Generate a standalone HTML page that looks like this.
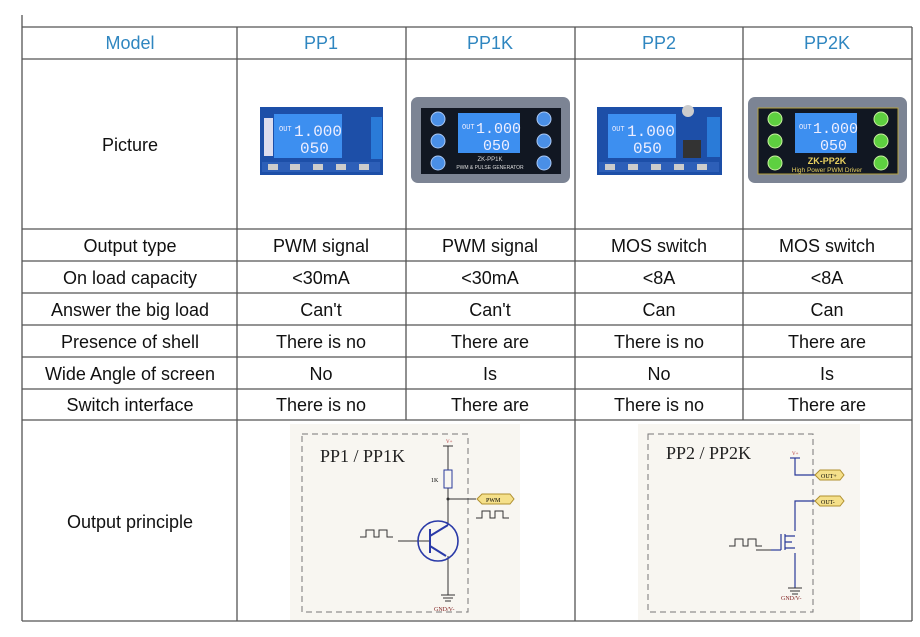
<!DOCTYPE html>
<html><head><meta charset="utf-8"><style>
html,body{margin:0;padding:0;background:#fff;}
svg{display:block;}
text{font-family:"Liberation Sans",sans-serif;}
text.s{font-family:"Liberation Serif",serif;}
.c{font-size:18px;fill:#111;text-anchor:middle;}
.h{font-size:18px;fill:#2f86c0;text-anchor:middle;}
text.lcd{font-family:"Liberation Mono",monospace;fill:#eef;}
</style></head><body>
<svg width="920" height="637" viewBox="0 0 920 637" xmlns="http://www.w3.org/2000/svg">
<rect width="920" height="637" fill="#fff"/>
<rect x="290" y="424" width="230" height="196" fill="#f8f6f1"/>
<rect x="638" y="424" width="222" height="196" fill="#f8f6f1"/>
<g stroke="#555" stroke-width="1.3" fill="none">
<line x1="22" y1="15" x2="22" y2="621"/>
<line x1="912" y1="27" x2="912" y2="621"/>
<line x1="237" y1="27" x2="237" y2="621"/>
<line x1="406" y1="27" x2="406" y2="420"/>
<line x1="575" y1="27" x2="575" y2="621"/>
<line x1="743" y1="27" x2="743" y2="420"/>
<line x1="22" y1="27" x2="912" y2="27"/>
<line x1="22" y1="59" x2="912" y2="59"/>
<line x1="22" y1="229" x2="912" y2="229"/>
<line x1="22" y1="261" x2="912" y2="261"/>
<line x1="22" y1="293" x2="912" y2="293"/>
<line x1="22" y1="325" x2="912" y2="325"/>
<line x1="22" y1="357" x2="912" y2="357"/>
<line x1="22" y1="389" x2="912" y2="389"/>
<line x1="22" y1="420" x2="912" y2="420"/>
<line x1="22" y1="621" x2="912" y2="621"/>
</g>
<text class="h" x="130" y="49">Model</text>
<text class="h" x="321" y="49">PP1</text>
<text class="h" x="490" y="49">PP1K</text>
<text class="h" x="659" y="49">PP2</text>
<text class="h" x="827" y="49">PP2K</text>
<text class="c" x="130" y="151">Picture</text>
<text class="c" x="130" y="252">Output type</text><text class="c" x="321" y="252">PWM signal</text><text class="c" x="490" y="252">PWM signal</text><text class="c" x="659" y="252">MOS switch</text><text class="c" x="827" y="252">MOS switch</text>
<text class="c" x="130" y="284">On load capacity</text><text class="c" x="321" y="284">&lt;30mA</text><text class="c" x="490" y="284">&lt;30mA</text><text class="c" x="659" y="284">&lt;8A</text><text class="c" x="827" y="284">&lt;8A</text>
<text class="c" x="130" y="316">Answer the big load</text><text class="c" x="321" y="316">Can't</text><text class="c" x="490" y="316">Can't</text><text class="c" x="659" y="316">Can</text><text class="c" x="827" y="316">Can</text>
<text class="c" x="130" y="348">Presence of shell</text><text class="c" x="321" y="348">There is no</text><text class="c" x="490" y="348">There are</text><text class="c" x="659" y="348">There is no</text><text class="c" x="827" y="348">There are</text>
<text class="c" x="130" y="380">Wide Angle of screen</text><text class="c" x="321" y="380">No</text><text class="c" x="490" y="380">Is</text><text class="c" x="659" y="380">No</text><text class="c" x="827" y="380">Is</text>
<text class="c" x="130" y="411">Switch interface</text><text class="c" x="321" y="411">There is no</text><text class="c" x="490" y="411">There are</text><text class="c" x="659" y="411">There is no</text><text class="c" x="827" y="411">There are</text>
<text class="c" x="130" y="528">Output principle</text>
<!-- PP1 board -->
<rect x="260" y="107" width="123" height="68" fill="#1d4fa8"/>
<rect x="264" y="118" width="9" height="38" fill="#dde"/>
<rect x="274" y="114" width="68" height="44" fill="#3d8ff0"/>
<text class="lcd" x="279" y="131" font-size="7">OUT</text>
<text class="lcd" x="294" y="136" font-size="16">1.000</text>
<text class="lcd" x="300" y="153" font-size="16">050</text>
<rect x="371" y="117" width="11" height="42" fill="#2a7bd8"/>
<rect x="262" y="162" width="118" height="10" fill="#2d5fb8"/>
<g fill="#ccc"><rect x="268" y="164" width="10" height="6"/><rect x="290" y="164" width="10" height="6"/><rect x="313" y="164" width="10" height="6"/><rect x="336" y="164" width="10" height="6"/><rect x="359" y="164" width="10" height="6"/></g>
<!-- PP1K -->
<rect x="411" y="97" width="159" height="86" rx="7" fill="#7c8494"/>
<rect x="421" y="108" width="140" height="66" fill="#111722"/>
<rect x="458" y="113" width="62" height="40" fill="#3d8ff0"/>
<text class="lcd" x="462" y="129" font-size="7">OUT</text>
<text class="lcd" x="476" y="133" font-size="15">1.000</text>
<text class="lcd" x="483" y="150" font-size="15">050</text>
<g fill="#4a8fe6" stroke="#aac8f5"><circle cx="438" cy="119" r="7"/><circle cx="438" cy="141" r="7"/><circle cx="438" cy="163" r="7"/><circle cx="544" cy="119" r="7"/><circle cx="544" cy="141" r="7"/><circle cx="544" cy="163" r="7"/></g>
<text x="490" y="161" font-size="6" fill="#ddd" text-anchor="middle">ZK-PP1K</text>
<text x="490" y="169" font-size="5" fill="#ddd" text-anchor="middle">PWM &amp; PULSE GENERATOR</text>
<!-- PP2 -->
<rect x="597" y="107" width="125" height="68" fill="#1d4fa8"/>
<rect x="608" y="114" width="68" height="44" fill="#3d8ff0"/>
<text class="lcd" x="612" y="131" font-size="7">OUT</text>
<text class="lcd" x="627" y="136" font-size="16">1.000</text>
<text class="lcd" x="633" y="153" font-size="16">050</text>
<circle cx="688" cy="111" r="6" fill="#ccc"/>
<rect x="683" y="140" width="18" height="18" fill="#333"/>
<rect x="707" y="117" width="13" height="40" fill="#2a7bd8"/>
<rect x="599" y="162" width="120" height="10" fill="#2d5fb8"/>
<g fill="#ccc"><rect x="605" y="164" width="10" height="6"/><rect x="628" y="164" width="10" height="6"/><rect x="651" y="164" width="10" height="6"/><rect x="674" y="164" width="10" height="6"/><rect x="697" y="164" width="10" height="6"/></g>
<!-- PP2K -->
<rect x="748" y="97" width="159" height="86" rx="7" fill="#7c8494"/>
<rect x="758" y="108" width="140" height="66" fill="#111722" stroke="#b5a040"/>
<rect x="795" y="113" width="62" height="40" fill="#3d8ff0"/>
<text class="lcd" x="799" y="129" font-size="7">OUT</text>
<text class="lcd" x="813" y="133" font-size="15">1.000</text>
<text class="lcd" x="820" y="150" font-size="15">050</text>
<g fill="#5ed040" stroke="#c8f0a0"><circle cx="775" cy="119" r="7"/><circle cx="775" cy="141" r="7"/><circle cx="775" cy="163" r="7"/><circle cx="881" cy="119" r="7"/><circle cx="881" cy="141" r="7"/><circle cx="881" cy="163" r="7"/></g>
<text x="827" y="164" font-size="9" font-weight="bold" fill="#e8d060" text-anchor="middle">ZK-PP2K</text>
<text x="827" y="172" font-size="6.5" fill="#e8d060" text-anchor="middle">High Power PWM Driver</text>
<!-- circuit 1 -->
<rect x="302" y="434" width="166" height="178" fill="none" stroke="#777" stroke-dasharray="6,4"/>
<text class="s" x="320" y="462" font-size="18" fill="#222">PP1 / PP1K</text>
<text class="s" x="446" y="443" font-size="5" fill="#b03030">V+</text>
<g stroke="#333" fill="none">
<line x1="443" y1="446" x2="453" y2="446"/>
<line x1="448" y1="446" x2="448" y2="470"/>
<line x1="448" y1="488" x2="448" y2="525"/>
<line x1="448" y1="499" x2="476" y2="499"/>
<line x1="398" y1="541" x2="430" y2="541"/>
<line x1="448" y1="556" x2="448" y2="595"/>
<path d="M360 537h6v-7h8v7h5v-7h8v7h6"/>
<path d="M476 518h6v-7h8v7h5v-7h8v7h6"/>
</g>
<circle cx="448" cy="499" r="1.5" fill="#333"/>
<rect x="444" y="470" width="8" height="18" fill="none" stroke="#2a3a9a"/>
<text class="s" x="431" y="482" font-size="6">1K</text>
<path d="M477 499l5-5h28l4 5-4 5h-28z" fill="#f5e08a" stroke="#b09030"/>
<text class="s" x="486" y="502" font-size="6">PWM</text>
<circle cx="438" cy="541" r="20" fill="none" stroke="#2a3aa8" stroke-width="1.6"/>
<g stroke="#2a3aa8" stroke-width="2"><line x1="430" y1="529" x2="430" y2="553"/><line x1="430" y1="536" x2="448" y2="525"/><line x1="430" y1="546" x2="446" y2="556"/></g>
<g stroke="#333"><line x1="441" y1="595" x2="455" y2="595"/><line x1="443" y1="598" x2="453" y2="598"/><line x1="445" y1="601" x2="451" y2="601"/></g>
<text class="s" x="434" y="611" font-size="6" fill="#802020">GND/V-</text>
<!-- circuit 2 -->
<rect x="648" y="434" width="165" height="178" fill="none" stroke="#777" stroke-dasharray="6,4"/>
<text class="s" x="666" y="459" font-size="18" fill="#222">PP2 / PP2K</text>
<text class="s" x="792" y="455" font-size="5" fill="#b03030">V+</text>
<g stroke="#2a3a9a" fill="none" stroke-width="1.2">
<line x1="790" y1="458" x2="800" y2="458"/>
<path d="M795 458v17h20"/>
<path d="M815 501h-20v30"/>
<path d="M795 553v35"/>
<line x1="785" y1="534" x2="785" y2="550"/>
<line x1="781" y1="534" x2="781" y2="550"/>
<path d="M785 536h10M785 548h10M785 542h7"/>
<line x1="771" y1="550" x2="781" y2="550"/>
</g>
<path d="M729 546h6v-7h8v7h5v-7h8v7h6" stroke="#333" fill="none"/>
<line x1="756" y1="550" x2="771" y2="550" stroke="#333"/>
<path d="M815 475l5-5h20l4 5-4 5h-20z" fill="#f5e08a" stroke="#b09030"/>
<path d="M815 501l5-5h20l4 5-4 5h-20z" fill="#f5e08a" stroke="#b09030"/>
<text class="s" x="821" y="478" font-size="6">OUT+</text>
<text class="s" x="821" y="504" font-size="6">OUT-</text>
<g stroke="#333"><line x1="788" y1="588" x2="802" y2="588"/><line x1="790" y1="591" x2="800" y2="591"/><line x1="792" y1="594" x2="798" y2="594"/></g>
<text class="s" x="781" y="600" font-size="6" fill="#802020">GND/V-</text>
</svg>
</body></html>
